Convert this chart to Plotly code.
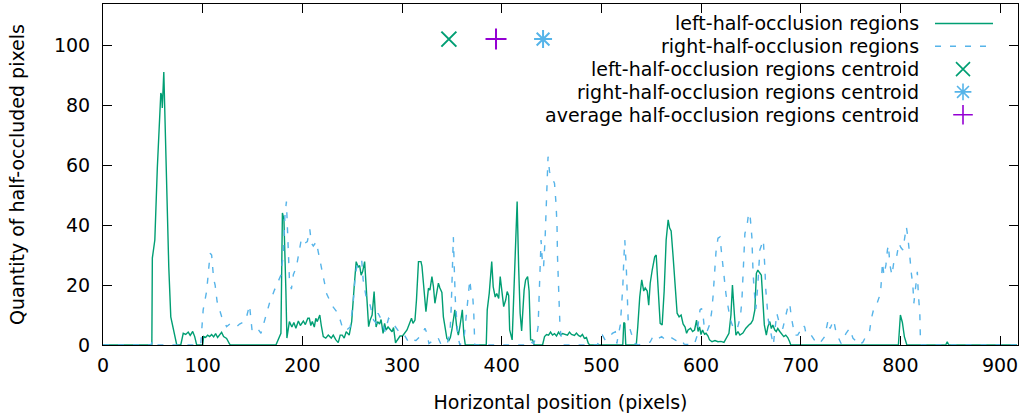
import plotly.graph_objects as go

# ---------------- data ----------------
left_x = [0, 49, 49.5, 52, 54.5, 58, 59, 59.5, 61, 64, 66, 68, 70.5, 74, 78, 80.5, 83, 85.5, 87.5, 90, 92, 94,
          100, 101, 103, 105, 107, 109, 111, 113, 115, 117, 119, 121, 124, 127, 128,
          173.5, 178.5, 180, 181.5, 183.5, 184.5, 187, 189.5, 191.5, 193.5, 196, 198, 201, 203, 205.5, 207, 208.5,
          210, 212, 213.5, 215, 217.5, 219, 221, 223.5, 226, 229, 231, 233.5, 236, 238, 240, 242, 244, 247, 249.5,
          252, 254, 256, 257.5, 259, 260.5, 262.5, 264.5, 266.5, 268, 270, 272, 274, 275.5, 277.5, 279, 281, 282.5,
          284, 286, 287.5, 290, 291.5, 293.5, 295, 298, 300.5, 302.5, 305, 307.5, 309.5, 311, 313, 314.5, 316.5,
          319, 320, 321.5, 324, 326.5, 328, 330, 331.5, 333, 335, 336.5, 338, 340, 341.5, 343, 345, 347, 348.5, 350,
          351.5, 353, 355, 356.5, 358, 360.5, 362, 363.5,
          384.5, 385.5, 387.5, 390, 391.5, 393.5, 395, 397, 398.5, 400, 402, 404, 405.5, 407, 408, 410.5, 412, 414,
          415.5, 417, 418.5, 420, 422.5, 424, 426, 427.5, 429, 431, 432.5,
          441, 443, 445, 447, 449, 451, 453, 455, 457, 459, 461, 463, 466, 468, 470, 473, 475, 477, 479, 481, 483,
          485, 487, 488.5,
          521.5, 522.5, 523.5, 524.5, 535, 536.5, 538.5, 540.5, 542.5, 544, 546, 547.5, 549, 551, 553.5, 555, 557,
          559, 561, 563, 565, 567, 568.5, 570, 572, 574, 576, 578, 580, 582, 584, 585.5, 587, 589.5, 591.5, 593.5,
          595.5, 597, 598.5, 600, 601.5, 603.5, 605, 607, 608.5, 611, 614, 617, 620, 623, 626, 628, 630, 631.5,
          633.5, 635, 637, 639, 642, 645, 648, 650, 652, 654, 655.5, 657, 659, 660.5, 662, 663.5, 665.5, 667, 669,
          670.5, 672, 674, 675.5, 677, 679, 681, 683, 685, 687, 689, 690,
          798, 800, 802, 804, 806.5, 845.5, 847, 848.5, 917]
left_y = [0, 0, 29, 35, 59, 84, 83, 79, 91, 51, 26, 9.4, 5.6, 0, 0, 3.9, 3.5, 4.3, 3.2, 4.5, 2.8, 0,
          0, 2.8, 2.5, 3.3, 2.8, 3.5, 2.7, 3.8, 2.5, 3.2, 4.2, 2.8, 2.2, 0.3, 0,
          0, 3.9, 44, 42, 18, 2.3, 7.8, 6, 7.5, 5.6, 8, 6.5, 8, 6.8, 8.9, 8.9, 6.5,
          7.8, 6, 8.9, 7.8, 10, 6.5, 2.8, 2.3, 3.3, 2.3, 3.3, 1.8, 0.8, 3.3, 3.3, 2.3, 4.4, 3.3, 7.8,
          19.4, 27.8, 26, 26.5, 23.3, 24.5, 27.8, 18.3, 6.1, 8.3, 10, 17.8, 6, 7.8, 7, 8.5, 3.9, 7.2,
          5, 6, 5.5, 4.4, 5.8, 0.7, 1.5, 3, 3, 3.9, 5, 7.2, 8.9, 7.2, 8.3, 15, 27.8,
          27.8, 26.3, 20.6, 11.1, 18.9, 18.3, 22.8, 19.5, 13.9, 18.3, 20.6, 19, 17.5, 9.4, 5.6, 2.2, 1.5, 2.5, 5,
          9.4, 11.7, 5.6, 3.3, 6, 11.7, 3.5, 0,
          0, 11.7, 17.2, 27.8, 19.4, 16, 17.2, 15.5, 22.8, 17.5, 12.8, 15, 17.8, 16.5, 5, 1.7, 15, 36,
          47.8, 26, 10.6, 4.7, 18.3, 21.7, 22.8, 18, 1.7, 1.7, 0,
          0, 2.8, 3.5, 3.3, 4.3, 3.3, 3.8, 3.0, 4.3, 3.3, 3.8, 3.5, 3.3, 4.3, 3.5, 3.2, 4.0, 3.2, 2.8, 3.5, 2.2,
          2.5, 0.5, 0,
          0, 7.5, 7.2, 0, 0, 6, 16, 21.7, 18, 19, 18, 13.3, 20.6, 25, 29.4, 30, 18.3,
          7.2, 6.7, 18, 35, 41.7, 39, 38, 29.4, 18, 10.6, 9.4, 10, 7, 6, 3.9, 5, 5.6, 4.5, 5,
          8.3, 4.5, 6, 3.5, 5, 3.6, 3.9, 3, 1.7, 1.1, 1.5, 1.1, 1.2, 0.9, 2.5, 3.9, 10, 20,
          10, 3.3, 4.5, 3.3, 4, 5.6, 6.7, 7.2, 8.3, 11.7, 23.9, 25, 24, 23.3, 15, 6.7, 3.3, 6, 7.8,
          5.5, 6.7, 5, 4.5, 5.5, 4.5, 3.5, 2.8, 3.3, 2.5, 1.0, 0,
          0, 10, 7.5, 2.8, 0, 0, 1.1, 0, 0]

right_x = [0, 48, 50, 52, 53, 98, 100.5, 104, 107.5, 109, 111, 112.5, 114.5, 117.5, 119, 122, 124, 128, 131,
           134, 137, 140, 143, 147, 149.5, 152, 155, 158.5, 164, 167, 172, 175, 178.5, 181, 182.5, 184, 185.5,
           187, 189, 191, 194, 196.5, 199, 202, 205, 207.5, 209, 211, 214, 216, 217.5, 221, 224.5, 229.5, 234.5,
           238, 241, 244.5, 248, 251, 253, 254.5, 257.5, 259.5, 261, 264.5, 268, 271.5, 274.5, 276, 280, 283,
           286.5, 290, 293.5, 297, 300.5, 304, 307, 310.5, 314, 317, 320, 323, 324.5, 327, 330, 333, 336, 339,
           345, 348, 349, 350, 350.8, 351.5, 352.5, 353.5, 356, 358, 362, 364.5, 366, 368, 369.5, 371, 372, 373,
           428, 429.5, 432, 435, 436.5, 438, 439.5, 441, 442, 443.5, 444.5, 445.5, 446.5, 448, 450, 453, 454.5,
           455.5, 456, 457, 458.5, 460.5, 462,
           496, 499, 501, 504, 508, 511, 514, 515.5, 519, 521.5, 522.5, 523.5, 525, 526, 527, 530, 533.5, 537,
           549, 552, 556, 560.5, 565, 570, 575, 580, 583, 593, 596, 597.5, 599, 600.5, 602, 603.5, 606, 608.5,
           610.5, 612, 613.5, 615, 617, 619, 620.5, 622, 623, 625, 627, 629, 632, 636, 639.5, 641, 642.5, 644,
           646, 647.5, 649, 650, 651, 652, 653, 655, 657, 659, 661, 662.5, 664, 665, 667.5, 670, 672.5, 676,
           679, 682, 685.5, 687.5, 689, 690.5, 694, 697, 700, 702, 704, 705.5, 710.5, 713, 716, 719, 724, 727.5,
           729.5, 733, 735, 737, 740.5, 745.5, 749, 752.5, 755, 759, 762.5, 766, 769, 771, 773, 775.5, 778, 780,
           781, 782, 783.5, 785.5, 787, 788, 789.5, 791.5, 794, 796, 798.5, 800.5, 802.5, 804, 806, 807.5, 808.5,
           809.5, 811, 812.5, 813.5, 815, 817, 818, 819.5, 820, 821, 917]
right_y = [0, 0, 1.5, 1.0, 0, 0, 11.7, 18, 30.6, 30, 22, 20, 14.4, 10.6, 9.5, 7.5, 6.1, 7.2, 6.5,
           6.1, 7, 7.5, 8, 13.3, 5, 6, 5.5, 3.9, 10, 13.9, 18.3, 20.6, 23.3, 30.6, 43, 47.8, 33,
           22.2, 18.6, 23.5, 26, 30.3, 35.3, 33.8, 34.5, 38.6, 34, 33, 34.4, 31, 28.5, 21.7, 17, 13.3, 11.1,
           8.3, 5, 5, 6, 14, 22.8, 26, 27.8, 28.6, 21.7, 15, 13.3, 8.3, 7.2, 10.6, 8, 4.4,
           8.9, 8, 6, 4.4, 4.4, 2.5, 0.7, 1.7, 1.5, 2.5, 3.3, 5.6, 4.4, 0.5, 1.2, 1.5, 2.5, 0.3,
           0, 3.9, 9.4, 19.4, 30.6, 36, 25, 15, 3, 0, 1.5, 10.6, 16, 21.7, 17, 16, 10.6, 0,
           0, 1, 0.5, 3, 6, 19.4, 35, 26.7, 26, 35, 43.9, 52.8, 62.8, 57.8, 56, 53.9, 47.2,
           40, 29.4, 19.4, 6, 0.5, 0,
           0, 2.8, 3.3, 1.5, 2.5, 3.9, 4.4, 0.5, 6.7, 19.4, 28.3, 35, 26, 16, 7.2, 3.9, 0.5, 0,
           1, 3, 2, 2.8, 1.5, 2.5, 1.5, 2, 0.3, 0, 3, 8, 11.7, 12.2, 10, 5, 4.5, 6.7,
           10.6, 16, 23, 31, 35.6, 36, 31, 26, 21.5, 17, 13, 9, 6, 5, 9.4, 15, 26, 37.2,
           39.4, 43.3, 44, 40, 36, 26, 19.4, 12, 20, 31.7, 33.9, 35, 26, 18.3, 8.3, 4, 0, 10.6,
           6.7, 5.5, 10, 13.3, 13.9, 9.4, 3.3, 3.3, 5, 6.7, 6, 3.3, 3.3, 2, 0.5, 0.5, 2.8, 8.3,
           5.5, 8.3, 5, 3, 0.5, 3.9, 5.5, 2.2, 1.5, 0, 1, 3.3, 4.4, 9, 11.7, 12.8, 15, 17.2,
           21.7, 27.5, 23.3, 26.7, 31.7, 33.3, 26.7, 23.3, 28.9, 29, 33.9, 32.5, 31.7, 35.6, 39.4, 36, 33.3,
           29.4, 23.9, 20, 13.9, 18, 24.4, 17, 10.6, 3.3, 0, 0]

centroid_names = ["left-half-occlusion regions centroid",
                  "right-half-occlusion regions centroid",
                  "average half-occlusion regions centroid"]
centroid_x = [347, 441.5, 394.3]
centroid_y = [102, 102, 102]

x_ticks = [0, 100, 200, 300, 400, 500, 600, 700, 800, 900]
y_ticks = [0, 20, 40, 60, 80, 100]

GREEN = "#009e73"
BLUE = "#56b4e9"
PURPLE = "#9400d3"
FONT = "DejaVu Sans"
FS = 19

fig = go.Figure()
fig.add_trace(go.Scatter(x=left_x, y=left_y, mode="lines",
                         line=dict(color=GREEN, width=1.4), showlegend=False))
fig.add_trace(go.Scatter(x=right_x, y=right_y, mode="lines",
                         line=dict(color=BLUE, width=1.4, dash="6px,9px"), showlegend=False))

c_sym = ["x-thin-open", "asterisk-open", "cross-thin-open"]
c_col = [GREEN, BLUE, PURPLE]
for i in range(3):
    fig.add_trace(go.Scatter(x=[centroid_x[i]], y=[centroid_y[i]], mode="markers",
                             marker=dict(symbol=c_sym[i], size=15, color=c_col[i],
                                         line=dict(width=2, color=c_col[i])),
                             showlegend=False))

# ---------- custom legend (text left of sample, gnuplot style) ----------
L, R, T, B = 103, 1018, 4, 345
def px_x(p):
    return (p - L) / (R - L)
def px_y(p):
    return (B - p) / (B - T)

legend_labels = ["left-half-occlusion regions", "right-half-occlusion regions"] + centroid_names
rows = [23.5, 46.3, 69.1, 91.9, 114.7]
annotations = []
for lab, r in zip(legend_labels, rows):
    annotations.append(dict(text=lab, xref="paper", yref="paper", x=px_x(921), y=px_y(r),
                            xanchor="right", yanchor="middle", showarrow=False,
                            font=dict(family=FONT, size=FS, color="black")))

shapes = [
    dict(type="line", xref="paper", yref="paper", x0=px_x(935), x1=px_x(993),
         y0=px_y(rows[0]), y1=px_y(rows[0]), line=dict(color=GREEN, width=1.4)),
    dict(type="line", xref="paper", yref="paper", x0=px_x(935), x1=px_x(993),
         y0=px_y(rows[1]), y1=px_y(rows[1]), line=dict(color=BLUE, width=1.4, dash="6px,9px")),
]

leg_sym = ["x-thin-open", "asterisk-open", "cross-thin-open"]
for i in range(3):
    fig.add_trace(go.Scatter(x=[px_x(963)], y=[px_y(rows[2 + i])], xaxis="x2", yaxis="y2",
                             mode="markers",
                             marker=dict(symbol=leg_sym[i], size=14, color=c_col[i],
                                         line=dict(width=1.6, color=c_col[i])),
                             showlegend=False, hoverinfo="skip"))

axis_common = dict(showgrid=False, zeroline=False, showline=True, linecolor="black", linewidth=1,
                   mirror="ticks", ticks="inside", ticklen=9, tickwidth=1, tickcolor="black",
                   tickfont=dict(family=FONT, size=FS, color="black"))

fig.update_layout(
    width=1022, height=416,
    margin=dict(l=L, r=1022 - R, t=T, b=416 - B, autoexpand=False),
    plot_bgcolor="white", paper_bgcolor="white",
    font=dict(family=FONT, size=FS, color="black"),
    showlegend=False,
    xaxis=dict(range=[0, 918], tickvals=x_ticks, ticklabelstandoff=3,
               title=dict(text="Horizontal position (pixels)", standoff=20,
                          font=dict(family=FONT, size=FS, color="black")),
               **axis_common),
    yaxis=dict(range=[0, 113.7], tickvals=y_ticks, ticklabelstandoff=8,
               title=dict(text="Quantity of half-occluded pixels", standoff=24,
                          font=dict(family=FONT, size=FS, color="black")),
               **axis_common),
    xaxis2=dict(overlaying="x", range=[0, 1], visible=False),
    yaxis2=dict(overlaying="y", range=[0, 1], visible=False),
    annotations=annotations,
    shapes=shapes,
)

fig.write_html("out.html", config={"displayModeBar": False},
               post_script="document.body.style.margin='0';document.body.style.padding='0';")
